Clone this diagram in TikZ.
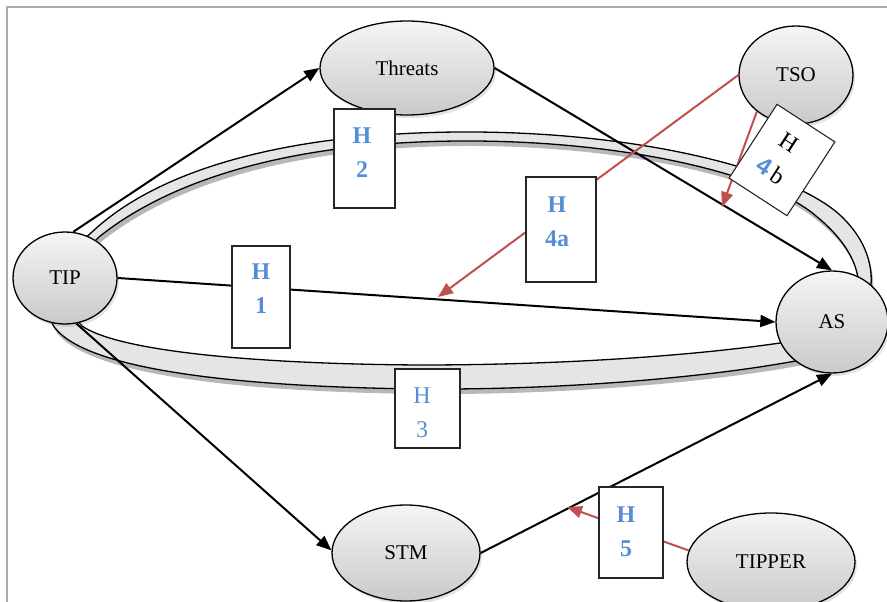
\documentclass[tikz,border=0pt]{standalone}
\usepackage{fontspec}
\setmainfont{Liberation Serif}
\newfontfamily\numsans{Liberation Sans}
\usetikzlibrary{arrows.meta,shapes.geometric,shadows}
\definecolor{hblue}{RGB}{85,142,213}
\definecolor{hred}{RGB}{192,80,77}
\tikzset{
  ell/.style={ellipse, draw=black, line width=1.3pt, inner sep=0pt,
    top color=gray!8, bottom color=gray!42,
    drop shadow={opacity=0.22, shadow xshift=2pt, shadow yshift=-3pt},
    font=\fontsize{21}{25}\selectfont},
  conn/.style={line width=2pt, draw=black, -{Triangle[length=15pt,width=12pt]}},
  rconn/.style={line width=2pt, draw=hred, -{Triangle[length=15pt,width=12pt]}},
  hbox/.style={rectangle, draw=black!85, line width=1.1pt, fill=white, inner sep=0pt},
  htext/.style={align=center, text=hblue, inner sep=0pt,
    font=\fontsize{24}{34}\selectfont\bfseries},
  htextn/.style={align=center, text=hblue, inner sep=0pt,
    font=\fontsize{24}{34}\selectfont},
  outerring/.style={insert path={(92,232) .. controls (160,168) and (290,133) .. (460,132)
    .. controls (640,131) and (790,170) .. (840,215)
    .. controls (870,243) and (876,275) .. (868,300)
    .. controls (850,340) and (830,355) .. (790,362)
    .. controls (700,378) and (560,390) .. (420,389)
    .. controls (250,387) and (90,372) .. (55,328)
    .. controls (35,300) and (60,260) .. (92,232) -- cycle}},
  innerring/.style={insert path={(99,237) .. controls (170,180) and (290,142) .. (460,141)
    .. controls (630,140) and (770,176) .. (816,216)
    .. controls (848,242) and (862,270) .. (858,295)
    .. controls (845,325) and (815,338) .. (780,343)
    .. controls (690,356) and (560,365) .. (420,365)
    .. controls (260,364) and (120,352) .. (82,326)
    .. controls (60,305) and (75,260) .. (99,237) -- cycle}},
}
\begin{document}
\begin{tikzpicture}[x=1pt,y=-1pt]
\useasboundingbox (0,0) rectangle (887,602);
% frame
\draw[gray!65, line width=1.5pt] (7,602) -- (7,7) -- (887,7);
% ring shadow
\begin{scope}[shift={(2,5)}]
\fill[black, opacity=0.28, even odd rule] [outerring] [innerring];
\end{scope}
% ring
\path[fill=gray!20, draw=black, line width=1.3pt, even odd rule] [outerring] [innerring];
% ellipses
\node[ell, minimum width=174pt, minimum height=94pt] (threats) at (407,68) {Threats};
\node[ell, minimum width=114pt, minimum height=98pt] (tso) at (796,75) {TSO};
\node[ell, minimum width=104pt, minimum height=92pt] (tip) at (65,278) {TIP};
\node[ell, minimum width=112pt, minimum height=102pt] (as) at (832,322) {AS};
\node[ell, minimum width=148pt, minimum height=96pt] (stm) at (406,553) {STM};
\node[ell, minimum width=168pt, minimum height=98pt] (tipper) at (771,562) {TIPPER};
% free ends of red arrows
\coordinate (e4a) at (438,297);
\coordinate (e4b) at (722,207);
\coordinate (e5) at (567,507);
% connectors
\draw[conn] (tip.80) -- (threats.west);
\draw[conn] (threats.east) -- (as.north);
\draw[conn] (tip.east) -- (as.west);
\draw[conn] (tip.-76) -- (stm.178);
\draw[conn] (stm.east) -- (as.south);
\draw[rconn] (tso.west) -- (e4a);
\draw[rconn] (tso.223) -- (e4b);
\draw[rconn] (tipper.172) -- (e5);
% hypothesis boxes
\node[hbox, minimum width=58pt, minimum height=102pt] (h1) at (261,297) {};
\node[htext] (h1t) at (261,289) {H\\1};
\node[hbox, minimum width=61pt, minimum height=99pt] (h2) at (364.5,158.5) {};
\node[htext] (h2t) at (362,153) {H\\2};
\node[hbox, minimum width=65pt, minimum height=79pt] (h3) at (427.5,408.5) {};
\node[htextn] (h3t) at (422,413) {H\\3};
\node[hbox, minimum width=70pt, minimum height=105pt] (h4a) at (561,229.5) {};
\node[htext] (h4at) at (557,222) {H\\4a};
\node[hbox, minimum width=64pt, minimum height=91pt] (h5) at (631,532.5) {};
\node[htext] (h5t) at (626,532) {H\\5};
\node[hbox, minimum width=69pt, minimum height=88pt, rotate=-33] (h4b) at (782,160) {};
\node[align=center, inner sep=0pt, rotate=-33, font=\fontsize{24}{34}\selectfont] (h4bt) at (780,157) {H\\\textcolor{hblue}{\numsans\bfseries 4}\kern4pt b};
\end{tikzpicture}
\end{document}
